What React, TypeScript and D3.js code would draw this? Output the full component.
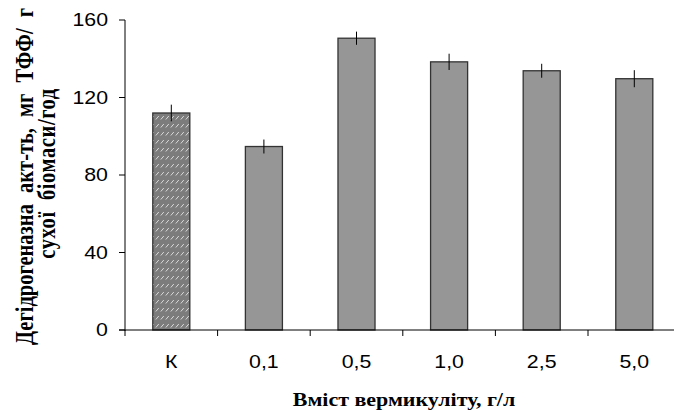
import React from "react";
import * as d3 from "d3";

const categories = ["К", "0,1", "0,5", "1,0", "2,5", "5,0"];
const values = [112, 94.7, 150.6, 138.4, 133.8, 129.7];
const errors = [4.3, 3.6, 3.4, 4.2, 3.6, 4.4];
const yTicks = [0, 40, 80, 120, 160];
const xTitle = "Вміст вермикуліту, г/л";
const yTitle1 = "Дегідрогеназна акт-ть, мг ТФФ/ г";
const yTitle2 = "сухої біомаси/год";

const W = 674;
const H = 410;
const X0 = 125;
const STEP = 92.6;
const Y_TOP = 20;
const Y_BOT = 330;
const SX = 1.22;

export default function App() {
  const x = d3
    .scaleBand<string>()
    .domain(categories)
    .range([X0, X0 + STEP * categories.length])
    .paddingInner(0.6)
    .paddingOuter(0.3);
  const y = d3.scaleLinear().domain([0, 160]).range([Y_BOT, Y_TOP]);
  const step = x.step();
  const boundaries = d3.range(categories.length + 1).map((i) => X0 + i * step);

  const tickFont = "'Liberation Sans', Arial, sans-serif";
  const titleFont = "'Liberation Serif', 'Times New Roman', serif";

  return (
    <svg
      width={W}
      height={H}
      style={{ position: "absolute", left: 0, top: 0, background: "#fff" }}
    >
      <defs>
        <pattern id="hatch" width={5} height={8} patternUnits="userSpaceOnUse" x={0} y={2}>
          <rect width={5} height={8} fill="#7c7c7c" />
          <line x1={0.8} y1={5.5} x2={3.8} y2={2} stroke="#d8d8d8" strokeWidth={1} />
        </pattern>
      </defs>

      {/* bars */}
      {categories.map((c, i) => (
        <rect
          key={c}
          x={x(c)}
          y={y(values[i])}
          width={x.bandwidth()}
          height={Y_BOT - y(values[i])}
          fill={i === 0 ? "url(#hatch)" : "#969696"}
          stroke="#333"
          strokeWidth={1.3}
        />
      ))}

      {/* error bars */}
      {categories.map((c, i) => {
        const cx = (x(c) as number) + x.bandwidth() / 2;
        return (
          <line
            key={"e" + c}
            x1={cx}
            x2={cx}
            y1={y(values[i] + errors[i])}
            y2={y(values[i] - errors[i])}
            stroke="#000"
            strokeWidth={1}
          />
        );
      })}

      {/* y axis */}
      <line x1={X0} x2={X0} y1={Y_TOP} y2={Y_BOT + 1} stroke="#000" strokeWidth={1} />
      {yTicks.map((t) => (
        <g key={"yt" + t}>
          <line x1={X0 - 6} x2={X0} y1={y(t)} y2={y(t)} stroke="#000" strokeWidth={1} />
          <text
            transform={`translate(108,${y(t)}) scale(${SX},1)`}
            textAnchor="end"
            dy="0.36em"
            fontFamily={tickFont}
            fontSize={17.5}
            fill="#000"
          >
            {t}
          </text>
        </g>
      ))}

      {/* x axis */}
      <line x1={X0 - 6} x2={W} y1={Y_BOT} y2={Y_BOT} stroke="#000" strokeWidth={1} />
      {boundaries.map((b, i) => (
        <line key={"xt" + i} x1={b} x2={b} y1={Y_BOT} y2={Y_BOT + 6} stroke="#000" strokeWidth={1} />
      ))}
      {categories.map((c) => (
        <text
          key={"xl" + c}
          transform={`translate(${(x(c) as number) + x.bandwidth() / 2},368) scale(${SX},1)`}
          textAnchor="middle"
          fontFamily={tickFont}
          fontSize={17.5}
          fill="#000"
        >
          {c}
        </text>
      ))}

      {/* axis titles */}
      <text
        transform={`translate(404,406) scale(${SX},1)`}
        textAnchor="middle"
        fontFamily={titleFont}
        fontWeight="bold"
        fontSize={18}
        fill="#000"
      >
        {xTitle}
      </text>
      <text
        transform={`translate(33,176.5) scale(${SX},1) rotate(-90)`}
        textAnchor="middle"
        fontFamily={titleFont}
        fontWeight="bold"
        fontSize={20.5}
        style={{ wordSpacing: "6px" }}
        fill="#000"
      >
        {yTitle1}
      </text>
      <text
        transform={`translate(55,173.5) scale(${SX},1) rotate(-90)`}
        textAnchor="middle"
        fontFamily={titleFont}
        fontWeight="bold"
        fontSize={20.5}
        style={{ wordSpacing: "5.5px", letterSpacing: "0.6px" }}
        fill="#000"
      >
        {yTitle2}
      </text>
    </svg>
  );
}
